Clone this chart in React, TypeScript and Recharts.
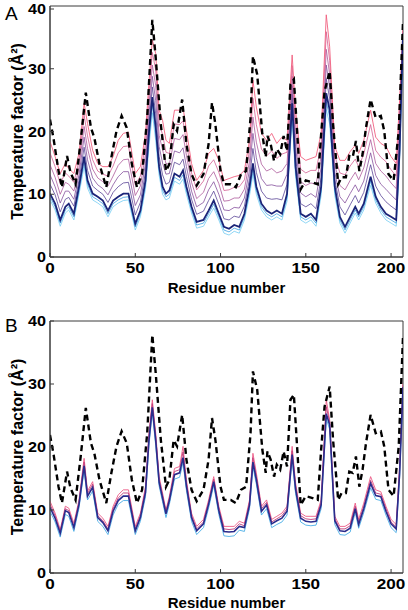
import { LineChart, Line, XAxis, YAxis, ReferenceArea } from 'recharts';

const FONT = '"Liberation Sans", Arial, sans-serif';

// residue positions shared by the simulated curves
const residues = [
  0, 3, 6, 9, 11, 14, 17, 20, 22, 25, 28, 31, 34, 37, 40, 43, 46, 50, 53, 56,
  58, 60, 62, 64, 66, 68, 70, 73, 76, 78, 80, 83, 86, 90, 93, 96, 99, 102, 105, 108,
  111, 114, 117, 119, 121, 124, 127, 130, 133, 136, 139, 142, 144, 147, 150, 153, 156, 159, 162, 164,
  167, 170, 173, 176, 179, 181, 184, 188, 191, 194, 197, 200, 203, 205, 207,
];

// panel A curves, top (pink) to bottom (light blue)
const aPink = [
  18.4, 16, 13.3, 14.9, 14.1, 13.3, 16.5, 24.5, 21.3, 17, 14.9, 14.4, 14.4, 16, 18.6, 19.7, 19.9, 13.3, 14.4, 19.7,
  27.7, 34.6, 32.4, 23.4, 21.8, 18.6, 18.1, 23.4, 23.4, 23.9, 20.2, 14.9, 12.2, 13.8, 16.5, 17.3, 15.4, 12.2, 12.5, 12.8,
  13, 13.8, 18.6, 28.2, 23.9, 19.7, 18.6, 19.7, 18.1, 19.1, 18.6, 32.2, 23.4, 16, 15.4, 15.7, 16, 19.7, 38.6, 33.5,
  17.6, 15.4, 15.4, 16.8, 17.8, 16.5, 18.6, 23.4, 19.1, 18.1, 17.6, 16, 14.9, 25, 36.2,
];
const aMid1 = [
  16.6, 14.4, 11.7, 13.4, 12.9, 11.9, 15.3, 22.6, 19.3, 15.5, 13.7, 13.2, 12.9, 14.5, 16.6, 17.6, 17.7, 11.5, 12.9, 18.1,
  25.9, 32.6, 29.8, 21.4, 19.5, 16.7, 16.5, 21.2, 21.1, 21.7, 18.2, 13.4, 10.7, 12.1, 14.5, 15.5, 13.5, 10.6, 10.7, 11.1,
  11.2, 12.3, 17.0, 25.3, 21.1, 17.2, 16.1, 16.9, 15.7, 16.4, 16.7, 30.5, 21.4, 14.0, 13.4, 13.8, 13.8, 17.8, 35.9, 31.3,
  16.2, 13.4, 13.1, 14.5, 15.6, 14.4, 16.4, 21.1, 17.0, 15.9, 15.2, 13.9, 12.9, 23.2, 36.1,
];
const aMid2 = [
  14.7, 12.7, 10.0, 11.9, 11.6, 10.5, 14.2, 20.8, 17.3, 14.0, 12.6, 12.0, 11.3, 12.9, 14.6, 15.5, 15.6, 9.8, 11.3, 16.4,
  24.2, 30.6, 27.3, 19.4, 17.1, 14.9, 14.8, 18.9, 18.7, 19.5, 16.2, 11.9, 9.3, 10.3, 12.5, 13.6, 11.7, 8.9, 9.0, 9.4,
  9.4, 10.8, 15.3, 22.3, 18.3, 14.8, 13.7, 14.1, 13.4, 13.7, 14.9, 28.8, 19.4, 12.0, 11.4, 11.8, 11.6, 16.0, 33.1, 29.1,
  14.8, 11.4, 10.7, 12.2, 13.5, 12.3, 14.2, 18.7, 14.9, 13.7, 12.9, 11.8, 10.9, 21.5, 35.9,
];
const aMid3 = [
  13.1, 11.2, 8.6, 10.5, 10.5, 9.2, 13.1, 19.1, 15.5, 12.6, 11.5, 10.9, 9.9, 11.5, 12.8, 13.6, 13.6, 8.2, 9.9, 14.9,
  22.6, 28.8, 24.9, 17.6, 15.0, 13.2, 13.3, 16.9, 16.6, 17.4, 14.4, 10.5, 8.0, 8.7, 10.7, 12.0, 10.0, 7.5, 7.4, 7.9,
  7.8, 9.4, 13.9, 19.7, 15.8, 12.5, 11.4, 11.5, 11.3, 11.3, 13.2, 27.3, 17.6, 10.2, 9.6, 10.1, 9.5, 14.3, 30.6, 27.0,
  13.5, 9.6, 8.6, 10.1, 11.5, 10.4, 12.1, 16.6, 13.0, 11.6, 10.8, 9.9, 9.1, 19.9, 35.8,
];
const aMid4 = [
  11.6, 9.9, 7.2, 9.2, 9.5, 8.1, 12.2, 17.5, 13.8, 11.3, 10.6, 10.0, 8.7, 10.3, 11.2, 11.8, 11.9, 6.7, 8.7, 13.6,
  21.1, 27.1, 22.8, 16.0, 13.1, 11.6, 11.9, 15.1, 14.7, 15.6, 12.8, 9.2, 6.8, 7.3, 9.0, 10.5, 8.4, 6.1, 5.9, 6.5,
  6.3, 8.1, 12.5, 17.3, 13.5, 10.5, 9.4, 9.2, 9.3, 9.1, 11.6, 25.9, 16.0, 8.5, 8.0, 8.5, 7.7, 12.7, 28.4, 25.2,
  12.4, 8.0, 6.7, 8.3, 9.8, 8.6, 10.3, 14.7, 11.3, 9.8, 8.8, 8.1, 7.5, 18.4, 35.7,
];
const aNavy = [
  10.1, 8.5, 5.9, 8, 8.5, 6.9, 11.2, 16, 12.2, 10.1, 9.6, 9, 7.4, 9, 9.6, 10.1, 10.1, 5.3, 7.4, 12.2,
  19.7, 25.5, 20.7, 14.4, 11.2, 10.1, 10.6, 13.3, 12.8, 13.8, 11.2, 8, 5.6, 5.9, 7.4, 9, 6.9, 4.8, 4.5, 5.1,
  4.8, 6.9, 11.2, 14.9, 11.2, 8.5, 7.4, 6.9, 7.4, 6.9, 10.1, 24.5, 14.4, 6.9, 6.4, 6.9, 5.9, 11.2, 26.1, 23.4,
  11.2, 6.4, 4.8, 6.4, 8, 6.9, 8.5, 12.8, 9.6, 8, 6.9, 6.4, 5.9, 17, 35.6,
];
const aSky1 = [
  9.6, 8.0, 5.4, 7.5, 8.0, 6.4, 10.6, 15.2, 11.6, 9.6, 9.1, 8.5, 6.9, 8.5, 9.1, 9.5, 9.6, 4.8, 6.9, 11.5,
  18.6, 24.3, 19.6, 13.7, 10.6, 9.6, 10.0, 12.7, 12.2, 13.1, 10.6, 7.5, 5.1, 5.4, 6.9, 8.4, 6.4, 4.3, 4.0, 4.6,
  4.3, 6.4, 10.5, 14.0, 10.6, 8.0, 6.9, 6.4, 6.9, 6.4, 9.5, 23.3, 13.6, 6.4, 5.9, 6.4, 5.4, 10.5, 24.8, 22.3,
  10.5, 5.9, 4.3, 5.9, 7.5, 6.4, 8.0, 12.1, 9.1, 7.5, 6.4, 5.9, 5.4, 16.2, 35.0,
];
const aSky2 = [
  9.1, 7.5, 4.9, 7.0, 7.5, 5.9, 10.0, 14.4, 11.0, 9.1, 8.6, 8.0, 6.4, 8.0, 8.6, 9.0, 9.1, 4.3, 6.4, 10.8,
  17.5, 23.0, 18.5, 13.0, 10.0, 9.1, 9.4, 12.1, 11.6, 12.4, 10.0, 7.0, 4.6, 4.9, 6.4, 7.8, 5.9, 3.8, 3.5, 4.1,
  3.8, 5.9, 9.8, 13.2, 10.0, 7.5, 6.4, 5.9, 6.4, 5.9, 8.9, 22.0, 12.8, 5.9, 5.4, 5.9, 4.9, 9.8, 23.5, 21.2,
  9.8, 5.4, 3.8, 5.4, 7.0, 5.9, 7.5, 11.4, 8.6, 7.0, 5.9, 5.4, 4.9, 15.4, 34.4,
];

// panel B curves
const bPink = [
  11.4, 9.5, 6.9, 10.6, 10.3, 7.9, 11.6, 18.2, 13.0, 14.5, 9.5, 8.7, 7.4, 10.6, 12.4, 13.2, 13.2, 7.4, 9.5, 13.7,
  22.2, 27.5, 22.2, 15.3, 12.7, 10.0, 12.2, 16.6, 16.9, 20.1, 14.8, 9.5, 7.4, 8.5, 11.6, 15.3, 10.6, 7.4, 7.4, 7.4,
  8.2, 7.9, 11.6, 19.0, 15.9, 10.6, 11.6, 8.5, 9.0, 9.5, 10.6, 20.1, 14.3, 9.5, 9.0, 9.0, 9.0, 11.6, 27.5, 24.3,
  9.0, 7.4, 7.4, 7.9, 11.1, 8.5, 11.1, 15.3, 13.2, 12.9, 10.6, 8.5, 7.7, 16.9, 30.1,
];
const bMid = [
  10.9, 9.1, 6.6, 10.2, 9.9, 7.5, 11.2, 17.6, 12.6, 14.1, 9.1, 8.3, 7.0, 10.2, 11.9, 12.7, 12.7, 7.0, 9.1, 13.2,
  21.6, 26.9, 21.6, 14.8, 12.3, 9.7, 11.8, 16.1, 16.4, 19.2, 14.3, 9.1, 7.0, 8.1, 11.2, 14.9, 10.2, 7.0, 6.9, 7.0,
  7.8, 7.5, 11.2, 18.3, 15.3, 10.2, 11.2, 8.1, 8.6, 9.1, 10.2, 19.4, 13.8, 9.1, 8.6, 8.5, 8.6, 11.2, 26.4, 24.0,
  8.6, 7.0, 7.0, 7.5, 10.6, 8.1, 10.6, 14.7, 12.7, 12.5, 10.2, 8.1, 7.3, 16.3, 29.8,
];
const bNavy = [
  10.4, 8.7, 6.3, 9.9, 9.6, 7.2, 10.9, 17.0, 12.2, 13.6, 8.8, 8.0, 6.7, 9.8, 11.5, 12.2, 12.2, 6.7, 8.8, 12.8,
  21.0, 26.3, 21.0, 14.4, 11.9, 9.4, 11.5, 15.6, 15.9, 18.3, 13.8, 8.8, 6.7, 7.8, 10.9, 14.5, 9.9, 6.6, 6.5, 6.6,
  7.4, 7.2, 10.8, 17.6, 14.8, 9.8, 10.8, 7.8, 8.3, 8.7, 9.8, 18.8, 13.3, 8.7, 8.2, 8.1, 8.2, 10.8, 25.3, 23.5,
  8.3, 6.7, 6.6, 7.1, 10.2, 7.7, 10.2, 14.2, 12.3, 12.1, 9.8, 7.8, 7.0, 15.8, 29.5,
];
const bSky = [
  9.8, 8.1, 5.7, 9.3, 9.0, 6.6, 10.3, 16.3, 11.6, 13.0, 8.2, 7.4, 6.1, 9.2, 10.9, 11.5, 11.5, 6.1, 8.2, 12.1,
  20.2, 25.5, 20.2, 13.8, 11.3, 8.8, 10.9, 14.9, 15.2, 17.5, 13.1, 8.2, 6.1, 7.2, 10.3, 13.9, 9.3, 5.9, 5.8, 5.9,
  6.8, 6.6, 10.2, 16.8, 14.1, 9.2, 10.2, 7.2, 7.7, 8.1, 9.2, 18.0, 12.6, 8.1, 7.6, 7.5, 7.6, 10.2, 24.5, 22.8,
  7.7, 6.1, 6.0, 6.5, 9.6, 7.1, 9.6, 13.5, 11.7, 11.5, 9.2, 7.2, 6.4, 15.1, 28.8,
];

// experimental B-factors (dashed, same in both panels)
const expResidues = [
  0, 2, 5, 7, 10, 12, 15, 18, 21, 24, 26, 29, 33, 36, 39, 42, 45, 48, 51, 54,
  57, 60, 62, 65, 68, 70, 72.5, 74.5, 77.5, 80, 83, 86, 90, 93, 95, 97, 100, 102, 106, 109,
  112, 115, 117.6, 119, 121.5, 124.5, 126.5, 127.5, 129.4, 131.4, 133, 135, 137, 139, 141, 143, 145, 147, 150, 154,
  157, 159, 161, 164, 166, 169, 171, 173.5, 175.5, 177.5, 179.4, 181.4, 183.3, 185.3, 188, 191, 194, 196, 198.5, 201.5,
  204.5, 207,
];
const expValues = [
  21.9, 19, 13.7, 11.1, 16.1, 13.5, 11.6, 18.5, 26.2, 20.6, 19, 14.8, 11.1, 15.9, 20.1, 22.5, 20.6, 14.8, 11.1, 13.2,
  22.2, 37.8, 31.7, 21.1, 13.7, 14.8, 21.1, 20.1, 25.1, 18, 13.2, 11.4, 13.2, 18, 24.6, 21.1, 13.7, 11.6, 11.6, 11.1,
  13.2, 13.7, 22.2, 32, 29.1, 19.6, 15.9, 19.3, 18, 15.3, 17.2, 16.4, 19.3, 16.9, 27.5, 28.3, 19.6, 10.8, 12.2, 11.9,
  11.6, 19.6, 26.4, 29.6, 21.1, 11.6, 12.7, 12.7, 16.1, 15.9, 18.5, 13.7, 16.4, 20.6, 25.1, 22.2, 22.5, 20.1, 13.2, 12.2,
  20.1, 37.5,
];

const xTicks = [0, 50, 100, 150, 200];
const yTicks = [0, 10, 20, 30, 40];

type Series = { key: string; values: number[]; color: string; width: number };

const seriesA: Series[] = [
  { key: 'sky2', values: aSky2, color: '#74cdf2', width: 0.8 },
  { key: 'sky1', values: aSky1, color: '#3d9fe0', width: 0.8 },
  { key: 'mid4', values: aMid4, color: '#5b4597', width: 0.8 },
  { key: 'mid3', values: aMid3, color: '#85509d', width: 0.8 },
  { key: 'mid2', values: aMid2, color: '#ad5a9c', width: 0.8 },
  { key: 'mid1', values: aMid1, color: '#d35f93', width: 0.8 },
  { key: 'pink', values: aPink, color: '#f0607f', width: 0.9 },
  { key: 'navy', values: aNavy, color: '#1b2478', width: 1.8 },
];

const seriesB: Series[] = [
  { key: 'sky', values: bSky, color: '#4aaee6', width: 0.9 },
  { key: 'pink', values: bPink, color: '#ec5a86', width: 0.9 },
  { key: 'mid', values: bMid, color: '#c03a78', width: 0.9 },
  { key: 'navy', values: bNavy, color: '#2b2c8c', width: 1.6 },
];

const expRows = expResidues.map((r, i) => ({ r, exp: expValues[i] }));

const buildRows = (list: Series[]) =>
  residues.map((r, i) => {
    const row: Record<string, number> = { r };
    list.forEach((s) => {
      row[s.key] = s.values[i];
    });
    return row;
  });

const AXIS = '#3a3a3a';
const xTitleStyle = { fontSize: 15, fontWeight: 'bold', fill: '#000', fontFamily: FONT };
const yTitleStyle = { fontSize: 16, fontWeight: 'bold', fill: '#000', fontFamily: FONT };

// MATLAB-like labels: wide bold digits plus a small inward tick
const BottomTick = (props: any) => {
  const { x, y, payload } = props;
  const label = String(payload.value);
  return (
    <g>
      <line x1={x} x2={x} y1={y - 5} y2={y - 9} stroke={AXIS} strokeWidth={1} />
      <text
        x={x}
        y={y + 10.5}
        textAnchor="middle"
        fontFamily={FONT}
        fontWeight="bold"
        fontSize={14}
        fill="#000"
        textLength={label.length * 9.5}
        lengthAdjust="spacingAndGlyphs"
      >
        {label}
      </text>
    </g>
  );
};

const LeftTick = (props: any) => {
  const { x, y, payload } = props;
  const label = String(payload.value);
  return (
    <g>
      <line x1={x + 4} x2={x + 8} y1={y} y2={y} stroke={AXIS} strokeWidth={1} />
      <text
        x={x}
        y={y + 5}
        textAnchor="end"
        fontFamily={FONT}
        fontWeight="bold"
        fontSize={14}
        fill="#000"
        textLength={label.length * 9}
        lengthAdjust="spacingAndGlyphs"
      >
        {label}
      </text>
    </g>
  );
};

const TopTick = (props: any) => {
  const { x, y } = props;
  return <line x1={x} x2={x} y1={y} y2={y + 4} stroke={AXIS} strokeWidth={1} />;
};

const RightTick = (props: any) => {
  const { x, y } = props;
  return <line x1={x} x2={x - 4} y1={y} y2={y} stroke={AXIS} strokeWidth={1} />;
};

const Panel = ({
  letter,
  list,
  top,
  height,
  marginTop,
  xAxisHeight,
  labelOffset,
  letterTop,
}: {
  letter: string;
  list: Series[];
  top: number;
  height: number;
  marginTop: number;
  xAxisHeight: number;
  labelOffset: number;
  letterTop: number;
}) => (
  <div style={{ position: 'absolute', left: 0, top, width: 408, height }}>
    <LineChart
      width={408}
      height={height}
      data={buildRows(list)}
      margin={{ top: marginTop, right: 5, bottom: 0, left: 0 }}
    >
      <XAxis
        dataKey="r"
        type="number"
        domain={[0, 207]}
        ticks={xTicks}
        allowDataOverflow
        height={xAxisHeight}
        tickSize={0}
        tickMargin={5}
        tick={<BottomTick />}
        stroke={AXIS}
        label={{ value: 'Residue number', position: 'insideBottom', offset: labelOffset, style: xTitleStyle }}
      />
      <XAxis
        xAxisId="top"
        orientation="top"
        dataKey="r"
        type="number"
        domain={[0, 207]}
        ticks={xTicks}
        allowDataOverflow
        height={0}
        tickSize={0}
        tickMargin={0}
        tick={<TopTick />}
        axisLine={false}
      />
      <YAxis
        type="number"
        domain={[0, 40]}
        ticks={yTicks}
        allowDataOverflow
        width={50}
        tickSize={0}
        tickMargin={4}
        tick={<LeftTick />}
        stroke={AXIS}
        label={{ value: 'Temperature factor (Å²)', angle: -90, position: 'center', dx: -8, style: yTitleStyle }}
      />
      <YAxis
        yAxisId="right"
        orientation="right"
        type="number"
        domain={[0, 40]}
        ticks={yTicks}
        allowDataOverflow
        width={0}
        tickSize={0}
        tickMargin={0}
        tick={<RightTick />}
        axisLine={false}
      />
      <ReferenceArea x1={0} x2={207} y1={0} y2={40} fill="none" stroke={AXIS} strokeWidth={1} />
      {list.map((s) => (
        <Line
          key={s.key}
          dataKey={s.key}
          type="linear"
          stroke={s.color}
          strokeWidth={s.width}
          dot={false}
          activeDot={false}
          isAnimationActive={false}
        />
      ))}
      <Line
        data={expRows}
        dataKey="exp"
        type="linear"
        stroke="#000"
        strokeWidth={2.4}
        strokeDasharray="6 4"
        dot={false}
        activeDot={false}
        isAnimationActive={false}
      />
    </LineChart>
    <div
      style={{
        position: 'absolute',
        left: 5,
        top: letterTop,
        fontFamily: FONT,
        fontSize: 19,
        lineHeight: '19px',
      }}
    >
      {letter}
    </div>
  </div>
);

export default function App() {
  return (
    <div style={{ position: 'absolute', left: 0, top: 0, width: 408, height: 610, background: '#fff' }}>
      <Panel letter="A" list={seriesA} top={0} height={300} marginTop={6} xAxisHeight={43} labelOffset={7} letterTop={4} />
      <Panel letter="B" list={seriesB} top={300} height={310} marginTop={21} xAxisHeight={37} labelOffset={2} letterTop={16} />
    </div>
  );
}
